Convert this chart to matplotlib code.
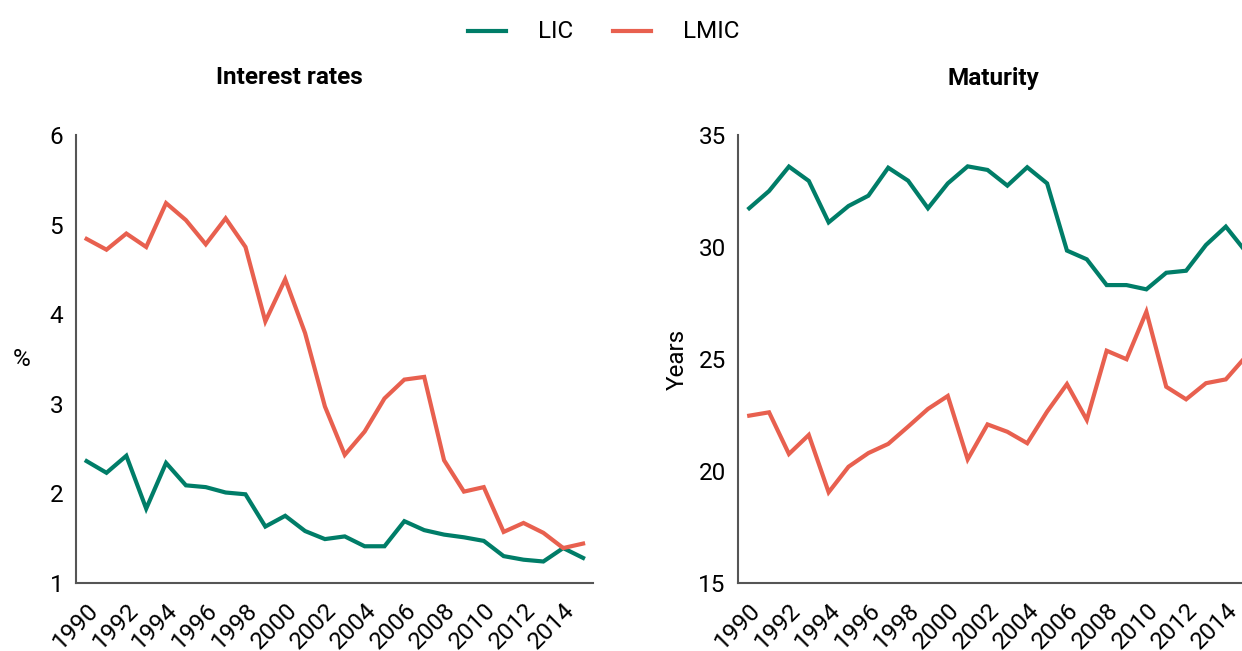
import matplotlib
matplotlib.use("Agg")
import matplotlib.pyplot as plt
from matplotlib.lines import Line2D
from matplotlib.transforms import ScaledTranslation

plt.rcParams['font.family'] = ['Roboto', 'Liberation Sans', 'DejaVu Sans']

years = list(range(1990, 2016))

rate_lic = [2.36, 2.23, 2.42, 1.83, 2.34, 2.09, 2.07, 2.01, 1.99, 1.63, 1.75, 1.58, 1.49,
            1.52, 1.41, 1.41, 1.69, 1.59, 1.54, 1.51, 1.47, 1.30, 1.26, 1.24, 1.39, 1.28]
rate_lmic = [4.84, 4.72, 4.90, 4.75, 5.24, 5.05, 4.78, 5.07, 4.75, 3.92, 4.39, 3.79, 2.97,
             2.43, 2.69, 3.06, 3.27, 3.30, 2.37, 2.02, 2.07, 1.57, 1.67, 1.56, 1.39, 1.44]

mat_lic = [31.73, 32.50, 33.59, 32.95, 31.10, 31.83, 32.29, 33.54, 32.96, 31.73, 32.84, 33.60,
           33.44, 32.74, 33.56, 32.84, 29.84, 29.45, 28.30, 28.30, 28.11, 28.85, 28.94, 30.09,
           30.91, 29.80]
mat_lmic = [22.47, 22.62, 20.76, 21.61, 19.05, 20.19, 20.80, 21.21, 21.98, 22.77, 23.35, 20.52,
            22.08, 21.75, 21.24, 22.65, 23.88, 22.28, 25.37, 24.99, 27.11, 23.76, 23.20, 23.92,
            24.09, 25.10]

xticks = list(range(1990, 2015, 2))
series_names = ["LIC", "LMIC"]
GREEN = "#007D68"
RED = "#E8604F"

W, H = 1242, 651
fig = plt.figure(figsize=(W / 100, H / 100), dpi=100)

def px_axes(x0, x1, ytop, ybot):
    return fig.add_axes([x0 / W, 1 - ybot / H, (x1 - x0) / W, (ybot - ytop) / H])

ax1 = px_axes(75.7, 593, 135, 583)
ax2 = px_axes(738.3, 1255.6, 135, 583)

FS = 17.5
lw = 3.0
for ax, lic, lmic, ylim, yt in [
    (ax1, rate_lic, rate_lmic, (1, 6), [1, 2, 3, 4, 5, 6]),
    (ax2, mat_lic, mat_lmic, (15, 35), [15, 20, 25, 30, 35]),
]:
    ax.plot(years, lic, color=GREEN, lw=lw, solid_joinstyle='miter')
    ax.plot(years, lmic, color=RED, lw=lw, solid_joinstyle='miter')
    ax.set_xlim(1989.45, 2015.5)
    ax.set_ylim(*ylim)
    ax.set_yticks(yt)
    ax.set_xticks(xticks)
    ax.set_xticklabels([str(x) for x in xticks], rotation=45, ha='right', va='top',
                       rotation_mode='anchor')
    offset = ScaledTranslation(5 / 100, 0, fig.dpi_scale_trans)
    for lab in ax.get_xticklabels():
        lab.set_transform(lab.get_transform() + offset)
    for s in ['top', 'right']:
        ax.spines[s].set_visible(False)
    for s in ['left', 'bottom']:
        ax.spines[s].set_color('#555555')
        ax.spines[s].set_linewidth(1.5)
    ax.tick_params(axis='both', length=0, labelsize=FS, colors='black')
    ax.tick_params(axis='y', pad=9)
    ax.tick_params(axis='x', pad=11)
    ax.patch.set_alpha(0)

ax1.set_ylabel("%", rotation=0, fontsize=FS, va='center', ha='center')
ax1.yaxis.set_label_coords((22 - 75.7) / 517.3, 0.5)
ax2.set_ylabel("Years", fontsize=FS, va='center', ha='center')
ax2.yaxis.set_label_coords((677 - 738.3) / 517.3, 0.5)

fig.text(289.5 / W, 1 - 78 / H, "Interest rates", ha='center', va='center',
         fontsize=FS, fontweight='bold')
fig.text(993 / W, 1 - 78 / H, "Maturity", ha='center', va='center',
         fontsize=FS, fontweight='bold')

# legend built by hand in figure pixels
ly = 1 - 31 / H
for (x0, x1, tx), name, col in zip([(468, 506, 556), (613, 651, 711)], series_names,
                                   [GREEN, RED]):
    fig.add_artist(Line2D([x0 / W, x1 / W], [ly, ly], color=col, lw=lw,
                          transform=fig.transFigure))
    fig.text(tx / W, ly, name, ha='center', va='center', fontsize=FS)

fig.savefig("out.png", dpi=100)
